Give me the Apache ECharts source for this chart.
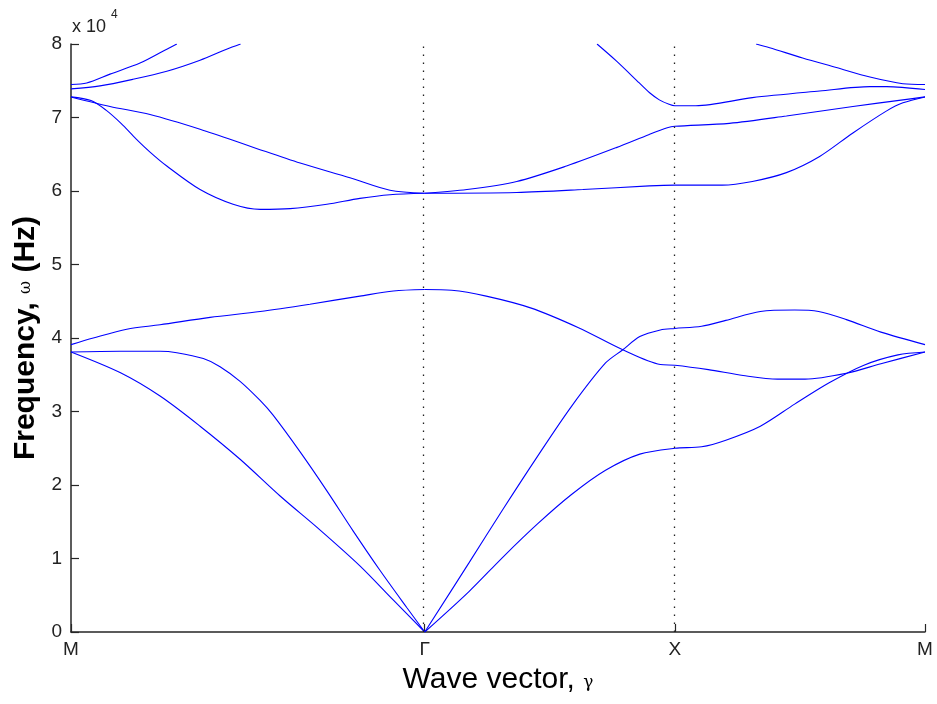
<!DOCTYPE html>
<html>
<head>
<meta charset="utf-8">
<script src="https://cdn.jsdelivr.net/npm/echarts@6/dist/echarts.min.js"></script>
<style>
html,body{margin:0;padding:0;background:#fff;}
#chart{width:937px;height:704px;}
</style>
</head>
<body>
<div id="chart"></div>
<script>
// ---- Data (frequency in units of 10^4 Hz, wave vector as path length M-Γ-X-M) ----
const tickPositions = [0, 1.4142, 2.4142, 3.4142];
const tickLabels = ['M', 'Γ', 'X', 'M'];
const markPositions = [1.4142, 2.4142];

// Branches M -> Γ
const bandA_k = [0, 0.089, 0.223, 0.356, 0.556, 0.756, 0.955, 1.155, 1.289, 1.4142];
const bandA_f = [3.91, 4.00, 4.12, 4.18, 4.28, 4.36, 4.46, 4.57, 4.64, 4.66];

const bandB_k = [0, 0.196, 0.356, 0.423, 0.529, 0.596, 0.676, 0.756, 0.808, 0.916, 1.023, 1.127, 1.235, 1.343, 1.4142];
const bandB_f = [3.81, 3.82, 3.82, 3.80, 3.72, 3.61, 3.41, 3.15, 2.95, 2.45, 1.92, 1.38, 0.84, 0.33, 0];

const bandC_k = [0, 0.196, 0.356, 0.516, 0.676, 0.836, 0.995, 1.155, 1.287, 1.4142];
const bandC_f = [3.81, 3.53, 3.21, 2.80, 2.35, 1.85, 1.39, 0.90, 0.44, 0];

const bandG_k = [0, 0.063, 0.156, 0.276, 0.383, 0.423];
const bandG_f = [7.45, 7.47, 7.59, 7.74, 7.93, 8.0];

const bandH_k = [0, 0.116, 0.248, 0.383, 0.516, 0.622, 0.678];
const bandH_f = [7.39, 7.43, 7.52, 7.63, 7.78, 7.93, 8.0];

const bandI_k = [0, 0.156, 0.316, 0.516, 0.716, 0.916, 1.115, 1.275, 1.4142];
const bandI_f = [7.28, 7.15, 7.04, 6.84, 6.61, 6.38, 6.18, 6.01, 5.97];

const bandJ_k = [0, 0.08, 0.14, 0.20, 0.26, 0.316, 0.383, 0.516, 0.648, 0.756, 0.876, 1.023, 1.155, 1.275, 1.4142];
const bandJ_f = [7.28, 7.23, 7.10, 6.92, 6.71, 6.53, 6.34, 6.02, 5.82, 5.75, 5.76, 5.82, 5.90, 5.95, 5.97];

// Branches Γ -> X -> M
const bandD_k = [1.4142, 1.522, 1.660, 1.837, 2.029, 2.206, 2.356, 2.4142, 2.548, 2.687, 2.825, 2.935, 3.100, 3.238, 3.4142];
const bandD_f = [4.66, 4.65, 4.57, 4.41, 4.14, 3.84, 3.64, 3.63, 3.57, 3.49, 3.44, 3.44, 3.52, 3.65, 3.81];

const bandE_k = [1.4142, 1.591, 1.727, 1.865, 2.001, 2.137, 2.206, 2.274, 2.356, 2.4142, 2.521, 2.618, 2.756, 2.893, 2.989, 3.100, 3.238, 3.4142];
const bandE_f = [0, 0.94, 1.67, 2.39, 3.07, 3.66, 3.84, 4.02, 4.11, 4.13, 4.16, 4.24, 4.36, 4.38, 4.36, 4.25, 4.08, 3.91];

const bandF_k = [1.4142, 1.591, 1.727, 1.865, 2.001, 2.137, 2.274, 2.4142, 2.521, 2.618, 2.756, 2.893, 3.031, 3.170, 3.306, 3.4142];
const bandF_f = [0, 0.55, 1.02, 1.47, 1.87, 2.20, 2.42, 2.50, 2.52, 2.61, 2.80, 3.10, 3.39, 3.63, 3.77, 3.81];

const bandK_k = [1.4142, 1.583, 1.782, 1.981, 2.180, 2.312, 2.384, 2.4142, 2.632, 2.860, 3.126, 3.326, 3.4142];
const bandK_f = [5.97, 6.02, 6.13, 6.34, 6.59, 6.77, 6.86, 6.88, 6.92, 7.02, 7.15, 7.24, 7.28];

const bandL_k = [1.4142, 1.782, 2.046, 2.312, 2.4142, 2.604, 2.724, 2.860, 2.993, 3.126, 3.261, 3.326, 3.4142];
const bandL_f = [5.97, 5.98, 6.02, 6.07, 6.08, 6.08, 6.13, 6.25, 6.47, 6.79, 7.09, 7.20, 7.28];

const bandN_k = [2.103, 2.180, 2.272, 2.312, 2.352, 2.391, 2.4142, 2.498, 2.724, 2.993, 3.194, 3.261, 3.4142];
const bandN_f = [8.0, 7.77, 7.47, 7.34, 7.24, 7.18, 7.16, 7.16, 7.27, 7.36, 7.42, 7.42, 7.38];

const bandO_k = [2.739, 2.793, 2.925, 3.060, 3.194, 3.326, 3.4142];
const bandO_f = [8.0, 7.95, 7.81, 7.68, 7.55, 7.46, 7.45];

const branches = [
  [bandA_k, bandA_f], [bandB_k, bandB_f], [bandC_k, bandC_f],
  [bandG_k, bandG_f], [bandH_k, bandH_f], [bandI_k, bandI_f], [bandJ_k, bandJ_f],
  [bandD_k, bandD_f], [bandE_k, bandE_f], [bandF_k, bandF_f],
  [bandK_k, bandK_f], [bandL_k, bandL_f], [bandN_k, bandN_f], [bandO_k, bandO_f]
];

const FONT = 'Liberation Sans, Arial, Helvetica, sans-serif';
const AXIS_COLOR = '#262626';

const series = branches.map(function (b, i) {
  const s = {
    type: 'line',
    data: b[0].map(function (k, j) { return [k, b[1][j]]; }),
    showSymbol: false,
    smooth: 0.3,
    clip: true,
    lineStyle: { color: '#0000ff', width: 1.1 },
    silent: true
  };
  if (i === 0) {
    s.markLine = {
      silent: true,
      symbol: 'none',
      label: { show: false },
      lineStyle: { color: '#222', width: 1.3, type: [1.5, 6.5] },
      data: markPositions.map(function (p) { return { xAxis: p }; })
    };
  }
  return s;
});

const chart = echarts.init(document.getElementById('chart'), null, { renderer: 'canvas' });
chart.setOption({
  animation: false,
  backgroundColor: '#fff',
  grid: { left: 71, right: 12, top: 44, bottom: 72, containLabel: false },
  xAxis: {
    type: 'value',
    min: 0,
    max: tickPositions[tickPositions.length - 1],
    name: '{n|Wave vector, }{s|γ}',
    nameLocation: 'middle',
    nameGap: 33,
    nameTextStyle: {
      rich: {
        n: { fontFamily: FONT, fontSize: 30, color: '#000' },
        s: { fontFamily: 'DejaVu Serif, serif', fontSize: 17, color: '#000', padding: [6, 0, 0, 0] }
      }
    },
    splitLine: { show: false },
    axisLine: { show: true, onZero: false, lineStyle: { color: AXIS_COLOR, width: 1.5 } },
    axisTick: { show: true, inside: true, length: 8, customValues: tickPositions, lineStyle: { color: AXIS_COLOR, width: 1.2 } },
    axisLabel: {
      customValues: tickPositions,
      margin: 8,
      fontFamily: FONT,
      fontSize: 19,
      color: '#222',
      formatter: function (v) {
        for (let i = 0; i < tickPositions.length; i++) {
          if (Math.abs(tickPositions[i] - v) < 1e-6) return tickLabels[i];
        }
        return '';
      }
    }
  },
  yAxis: {
    type: 'value',
    min: 0,
    max: 8,
    interval: 1,
    name: '{b|Frequency, }{s|ω}{b| (Hz)}',
    nameLocation: 'middle',
    nameGap: 24,
    nameTextStyle: {
      rich: {
        b: { fontFamily: FONT, fontSize: 30, fontWeight: 'bold', color: '#000' },
        s: { fontFamily: 'DejaVu Serif, serif', fontSize: 16, color: '#000' }
      }
    },
    splitLine: { show: false },
    axisLine: { show: true, onZero: false, lineStyle: { color: AXIS_COLOR, width: 1.5 } },
    axisTick: { show: true, inside: true, length: 8, lineStyle: { color: AXIS_COLOR, width: 1.2 } },
    axisLabel: { margin: 9, fontFamily: FONT, fontSize: 19, color: '#222' }
  },
  graphic: [
    { type: 'text', left: 72, top: 18, style: { text: 'x 10', fontFamily: FONT, fontSize: 18, fill: '#222' } },
    { type: 'text', left: 111, top: 9, style: { text: '4', fontFamily: FONT, fontSize: 12, fill: '#222' } }
  ],
  series: series
});
</script>
</body>
</html>
